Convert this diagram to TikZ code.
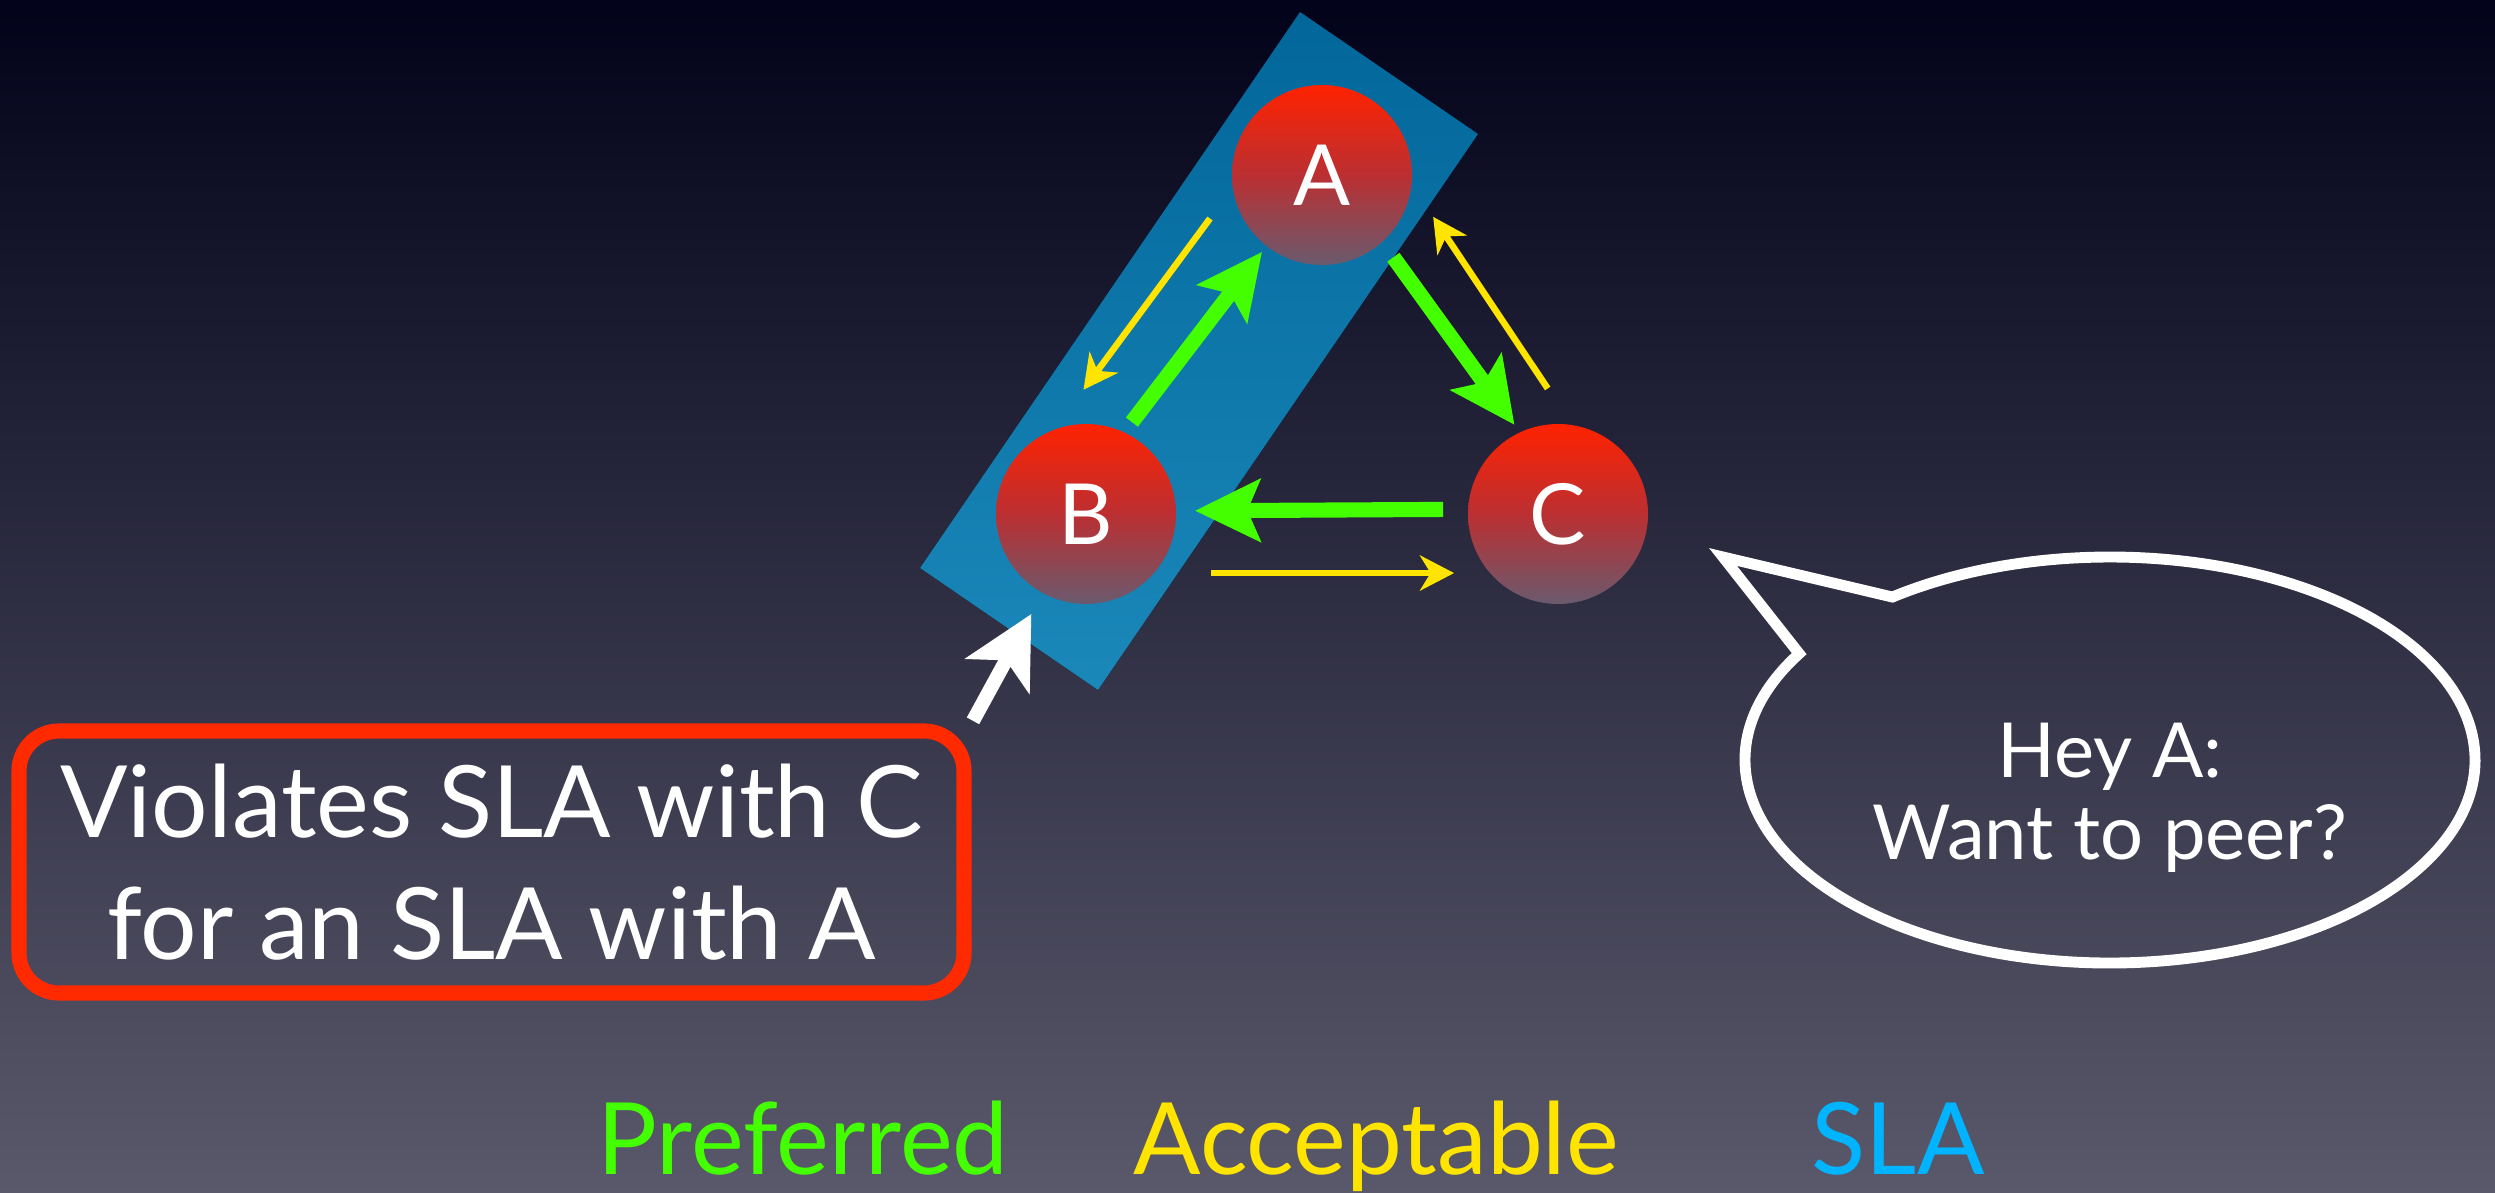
\documentclass[tikz,border=0pt]{standalone}
\usepackage{fontspec}
\setmainfont{Lato}
\usepackage{xcolor}
\usepackage{tikz}
\usetikzlibrary{arrows.meta,positioning,calc}
\definecolor{bgtop}{HTML}{02021A}
\definecolor{bgmid}{HTML}{2E2E47}
\definecolor{bgbot}{HTML}{5A596B}
\definecolor{pref}{HTML}{44FF00}
\definecolor{acc}{HTML}{FFE400}
\definecolor{slablue}{HTML}{00B4FF}
\definecolor{warn}{HTML}{FF2A00}
\definecolor{peertop}{HTML}{FF2200}
\definecolor{peermid}{HTML}{BB2F32}
\definecolor{peerbot}{HTML}{6A5A6E}
\definecolor{zonetop}{HTML}{02669A}
\definecolor{zonebot}{HTML}{1B88BA}
\tikzset{
  peer/.style={circle, minimum size=1.8cm, inner sep=0pt, outer sep=0pt,
               top color=peertop, bottom color=peerbot, middle color=peermid,
               text=white, font=\fontsize{24}{24}\selectfont},
  prefarr/.style={draw=pref, line width=4.3pt,
                  -{Stealth[length=18.5pt, width=17.6pt, inset=3.6pt]}},
  accarr/.style={draw=acc, line width=1.85pt,
                 -{Stealth[length=9.7pt, width=10pt, inset=3pt]}},
  pointer/.style={draw=white, line width=4pt,
                  -{Stealth[length=20pt, width=20.5pt, inset=5pt]}},
  lgd/.style={anchor=base west, inner sep=0pt, font=\fontsize{28.4}{28.4}\selectfont},
}
\begin{document}
\begin{tikzpicture}[
      violbox/.style={draw=warn, line width=4.3pt, rounded corners=4mm,
                      minimum width=9.45cm, minimum height=2.62cm, align=center,
                      text=white, font=\fontsize{28.4}{34.7}\selectfont},
      bubble/.style={draw=white, line width=3.1pt}]
    \useasboundingbox (0,0) rectangle (24.95,-11.93);
    \shade[top color=bgtop, middle color=bgmid, bottom color=bgbot]
      (0,0) rectangle (24.95,-11.93);
    \fill[top color=zonetop, bottom color=zonebot]
      (13.00,-0.12) -- (14.78,-1.34) -- (10.98,-6.90) -- (9.20,-5.68) -- cycle;
    \node[peer] (A) at (13.22,-1.75) {A};
    \node[peer] (B) at (10.86,-5.14) {B};
    \node[peer] (C) at (15.58,-5.14) {C};
    \draw[accarr, shorten <=0.385cm, shorten >=0.50cm] (A.188.3) -- (B.111.4);
    \draw[prefarr, shorten <=0.13cm, shorten >=0.076cm] (B.65) -- (A.232);
    \draw[prefarr, shorten <=0.19cm, shorten >=0.094cm] (A.312.5) -- (C.115.3);
    \draw[accarr, shorten <=0.44cm, shorten >=0.39cm] (C.81.3) -- (A.354.5);
    \draw[prefarr, shorten <=0.25cm, shorten >=0.19cm] (C.177.5) -- (B.2.5);
    \draw[accarr, shorten <=0.57cm, shorten >=0.36cm] (B.319) -- (C.221);
    \node[violbox] (viol) at (4.915,-8.62) {Violates SLA with C\\for an SLA with A};
    \draw[pointer, shorten <=0.03cm, shorten >=0.24cm] (viol.north east) -- (B);
    \coordinate (bc) at (21.10,-7.60);
    \coordinate (tail) at (17.23,-5.57);
    \draw[bubble] (bc) ++(148.4:3.65 and 2.03)
      arc[start angle=148.4, end angle=486.6, x radius=3.65, y radius=2.03]
      -- (tail) -- cycle;
    \node[text=white, align=center, font=\fontsize{21.6}{23.5}\selectfont] (msg)
      at (21.10,-7.98) {Hey A:\\Want to peer?};
    \node[lgd, text=pref] (lp) at (5.97,-11.74) {Preferred};
    \node[lgd, text=acc] (la) at (11.33,-11.74) {Acceptable};
    \node[lgd, text=slablue] (ls) at (18.11,-11.74) {SLA};
  \end{tikzpicture}
\end{document}
